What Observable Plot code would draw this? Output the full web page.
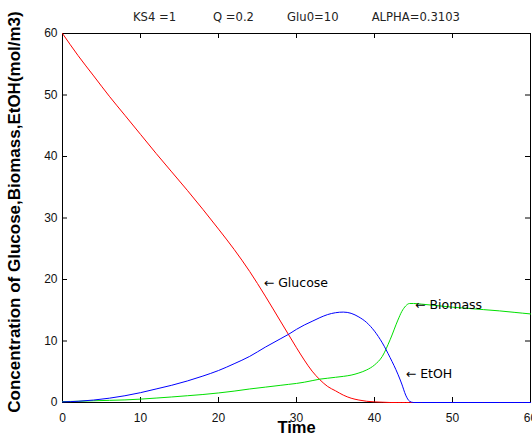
<!DOCTYPE html>
<html>
<head>
<meta charset="utf-8">
<script src="https://cdn.jsdelivr.net/npm/d3@7"></script>
<script src="https://cdn.jsdelivr.net/npm/@observablehq/plot@0.6"></script>
<style>
  html, body { margin: 0; padding: 0; background: #fff; }
  svg text { white-space: pre; }
</style>
</head>
<body>
<div id="chart"></div>
<script>
const time    = [0, 2, 4, 6, 8, 10, 12, 14, 16, 18, 20, 22, 24, 26, 28, 29, 30, 31, 32, 33, 34, 35, 36, 37, 38, 39, 40, 41, 42, 43, 43.5, 44, 44.5, 45, 46, 48, 50, 52, 54, 56, 58, 60];
const glucose = [60, 56.4, 53.1, 49.8, 46.7, 43.6, 40.5, 37.5, 34.5, 31.4, 28.2, 24.9, 21.3, 17.3, 13.1, 11.0, 8.9, 6.9, 5.1, 3.7, 2.6, 1.9, 1.2, 0.7, 0.4, 0.2, 0.1, 0.05, 0, 0, 0, 0, 0, 0, 0, 0, 0, 0, 0, 0, 0, 0];
const biomass = [0.15, 0.2, 0.28, 0.35, 0.42, 0.55, 0.72, 0.9, 1.1, 1.3, 1.55, 1.85, 2.2, 2.5, 2.8, 2.95, 3.1, 3.3, 3.55, 3.8, 3.95, 4.1, 4.25, 4.45, 4.8, 5.3, 6.1, 7.5, 10.2, 13.4, 14.8, 15.7, 16.1, 16.1, 16.0, 15.75, 15.5, 15.3, 15.1, 14.9, 14.65, 14.4];
const etoh    = [0.1, 0.2, 0.4, 0.7, 1.1, 1.6, 2.2, 2.8, 3.5, 4.3, 5.2, 6.3, 7.5, 9.0, 10.4, 11.1, 11.9, 12.6, 13.2, 13.8, 14.3, 14.6, 14.7, 14.5, 13.9, 13.0, 11.6, 9.7, 7.3, 4.6, 3.0, 1.2, 0.2, 0, 0, 0, 0, 0, 0, 0, 0, 0];

const xTicks = [0, 10, 20, 30, 40, 50, 60];
const yTicks = [0, 10, 20, 30, 40, 50, 60];

const labelText = ["\u2190 Glucose", "\u2190 Biomass", "\u2190 EtOH"];
const labelTime = [25.8, 45.2, 44.0];
const labelConc = [19.5, 15.8, 4.7];

const titleParts = ["KS4 =1", "Q =0.2", "Glu0=10", "ALPHA=0.3103"];
const titleText = titleParts[0] + " ".repeat(10) + titleParts[1] + " ".repeat(9) + titleParts[2] + " ".repeat(9) + titleParts[3];
const xLabel = "Time";
const yLabel = "Concentration of Glucose,Biomass,EtOH(mol/m3)";

const rows = time.map((t, i) => ({t, glucose: glucose[i], biomass: biomass[i], etoh: etoh[i]}));
const labels = labelText.map((s, i) => ({s, t: labelTime[i], c: labelConc[i]}));

const chart = Plot.plot({
  width: 532,
  height: 445,
  marginLeft: 62,
  marginRight: 2,
  marginTop: 33,
  marginBottom: 43,
  style: {fontFamily: "'Liberation Sans', Arial, sans-serif", background: "#fff", color: "#111"},
  x: {domain: [0, 60]},
  y: {domain: [0, 60]},
  marks: [
    Plot.frame({stroke: "#000", strokeWidth: 1}),
    Plot.tickX(xTicks, {x: d => d, insetTop: 364, stroke: "#000"}),
    Plot.tickX(xTicks, {x: d => d, insetBottom: 364, stroke: "#000"}),
    Plot.tickY(yTicks, {y: d => d, insetRight: 463, stroke: "#000"}),
    Plot.tickY(yTicks, {y: d => d, insetLeft: 463, stroke: "#000"}),
    Plot.axisX({ticks: xTicks, tickSize: 0, tickPadding: 11, fontSize: 12, label: null, tickFormat: d => String(d)}),
    Plot.axisY({ticks: yTicks, tickSize: 0, tickPadding: 5, fontSize: 12, label: null, tickFormat: d => String(d)}),
    Plot.line(rows, {x: "t", y: "glucose", stroke: "#ff0000", strokeWidth: 1, curve: "monotone-x"}),
    Plot.line(rows, {x: "t", y: "biomass", stroke: "#00e000", strokeWidth: 1, curve: "monotone-x"}),
    Plot.line(rows, {x: "t", y: "etoh", stroke: "#0000ff", strokeWidth: 1, curve: "monotone-x"}),
    Plot.text(labels, {x: "t", y: "c", text: "s", textAnchor: "start", fontSize: 12.5, fontFamily: "'DejaVu Sans', sans-serif", fill: "#000"}),
    Plot.text([titleText], {text: d => d, frameAnchor: "top", lineAnchor: "middle", textAnchor: "middle", dy: -16, fontSize: 11.6, fontFamily: "'DejaVu Sans', sans-serif", fill: "#222"}),
    Plot.text([xLabel], {text: d => d, frameAnchor: "bottom", lineAnchor: "middle", textAnchor: "middle", dy: 25, fontSize: 16.5, fontWeight: "bold", fill: "#000"}),
    Plot.text([yLabel], {text: d => d, frameAnchor: "left", lineAnchor: "middle", textAnchor: "middle", rotate: -90, dx: -48, dy: -6, fontSize: 17, fontWeight: "bold", fill: "#000"})
  ]
});
document.getElementById("chart").appendChild(chart);
</script>
</body>
</html>
